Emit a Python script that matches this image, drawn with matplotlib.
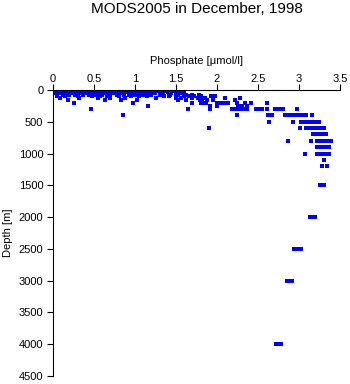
import matplotlib
matplotlib.use("Agg")
import matplotlib.pyplot as plt
import numpy as np

# phosphate readings (umol/l) at each standard depth level (m)
p_0 = [0.01, 0.04, 0.07, 0.09, 0.12, 0.15, 0.18, 0.21, 0.24, 0.27, 0.3, 0.33, 0.36,
       0.39, 0.42, 0.45, 0.48, 0.51, 0.54, 0.57, 0.6, 0.63, 0.66, 0.69, 0.72, 0.75,
       0.78, 0.81, 0.84, 0.87, 0.9, 0.93, 0.96, 0.99, 1.02, 1.08, 1.12, 1.18, 1.22,
       1.3, 1.35, 1.4, 1.47]
p_10 = [0.02, 0.05, 0.08, 0.11, 0.14, 0.17, 0.2, 0.23, 0.26, 0.29, 0.32, 0.35, 0.38,
        0.41, 0.44, 0.47, 0.5, 0.53, 0.56, 0.59, 0.62, 0.65, 0.68, 0.71, 0.74, 0.77,
        0.8, 0.83, 0.86, 0.89, 0.92, 0.95, 0.98, 1.1, 1.16, 1.25, 1.32, 1.42, 1.48]
p_20 = [0.03, 0.06, 0.1, 0.13, 0.16, 0.19, 0.22, 0.26, 0.29, 0.33, 0.36, 0.4, 0.43,
        0.46, 0.5, 0.53, 0.57, 0.6, 0.63, 0.67, 0.7, 0.74, 0.77, 0.8, 0.84, 0.88,
        0.91, 0.95, 1.02, 1.06, 1.2, 1.28, 1.37, 1.45, 1.52]
p_30 = [0.02, 0.07, 0.11, 0.15, 0.2, 0.24, 0.3, 0.34, 0.38, 0.44, 0.48, 0.52, 0.58,
        0.62, 0.66, 0.7, 0.75, 0.8, 0.85, 0.9, 0.98, 1.1, 1.14, 1.3, 1.4, 1.5, 1.56]
p_50 = [0.03, 0.09, 0.17, 0.22, 0.28, 0.35, 0.41, 0.5, 0.55, 0.61, 0.68, 0.73, 0.82,
        0.87, 0.95, 1.05, 1.18, 1.24, 1.34, 1.44, 1.55, 1.6]
p_75 = [0.05, 0.12, 0.2, 0.27, 0.36, 0.44, 0.52, 0.6, 0.7, 0.78, 0.86, 0.93, 1.0,
        1.1, 1.2, 1.3, 1.43, 1.52, 1.62, 1.7, 1.78]
p_100 = [0.05, 0.15, 0.31, 0.48, 0.57, 0.66, 0.8, 0.95, 1.05, 1.15, 1.35, 1.42, 1.5,
         1.6, 1.66, 1.72, 1.8, 1.93, 1.98]
p_125 = [0.08, 0.32, 0.55, 0.7, 0.88, 1.25, 1.5, 1.56, 1.69, 1.77, 1.85, 2.1, 2.28]
p_150 = [0.18, 0.63, 0.83, 1.03, 1.53, 1.62, 1.79, 1.82, 1.88, 1.95, 2.22]
p_200 = [0.25, 0.97, 1.7, 1.81, 1.84, 1.87, 2.0, 2.04, 2.07, 2.11, 2.14, 2.24, 2.34,
         2.42, 2.61]
p_250 = [1.16, 1.91, 2.0, 2.26, 2.3, 2.37]
p_300 = [0.46, 1.65, 1.91, 2.18, 2.21, 2.24, 2.28, 2.32, 2.37, 2.48, 2.5, 2.52, 2.55,
         2.61, 2.71, 2.74, 2.77, 2.8, 2.98]
p_400 = [0.85, 2.24, 2.62, 2.65, 2.67, 2.83, 2.86, 2.88, 2.91, 2.95, 2.98, 3.01, 3.04,
         3.07, 3.09, 3.16]
p_500 = [2.64, 2.93, 3.02, 3.07, 3.1, 3.13, 3.16, 3.19, 3.22, 3.24]
p_600 = [1.9, 3.01, 3.09, 3.13, 3.16, 3.19, 3.22, 3.25, 3.28, 3.31]
p_700 = [3.17, 3.2, 3.23, 3.26, 3.29, 3.33]
p_800 = [2.86, 3.15, 3.22, 3.25, 3.28, 3.31, 3.34, 3.36, 3.39]
p_900 = [3.22, 3.25, 3.28, 3.31, 3.33, 3.36]
p_1000 = [3.07, 3.22, 3.25, 3.28, 3.31, 3.34, 3.37]
p_1100 = [3.31]
p_1200 = [3.28, 3.34]
p_1500 = [3.25, 3.28, 3.31]
p_2000 = [3.13, 3.16, 3.19]
p_2500 = [2.94, 2.97, 3.0, 3.02]
p_3000 = [2.85, 2.88, 2.91]
p_4000 = [2.72, 2.75, 2.78]

levels = {0: p_0, 10: p_10, 20: p_20, 30: p_30, 50: p_50, 75: p_75, 100: p_100,
          125: p_125, 150: p_150, 200: p_200, 250: p_250, 300: p_300, 400: p_400,
          500: p_500, 600: p_600, 700: p_700, 800: p_800, 900: p_900, 1000: p_1000,
          1100: p_1100, 1200: p_1200, 1500: p_1500, 2000: p_2000, 2500: p_2500,
          3000: p_3000, 4000: p_4000}

x_ticks = [0, 0.5, 1, 1.5, 2, 2.5, 3, 3.5]
x_labels = ["0", "0.5", "1", "1.5", "2", "2.5", "3", "3.5"]
y_ticks = [0, 500, 1000, 1500, 2000, 2500, 3000, 3500, 4000, 4500]

phos = np.concatenate([np.asarray(v, float) for v in levels.values()])
depth = np.concatenate([np.full(len(v), d, float) for d, v in levels.items()])

plt.rcParams["font.family"] = ["Liberation Sans", "DejaVu Sans"]

W, H = 350, 384
fig = plt.figure(figsize=(W / 100, H / 100), dpi=100)
ax = fig.add_axes([53 / W, 1 - 376 / H, 287 / W, 286 / H])

ax.scatter(phos, depth, s=7.5, marker="s", color="#0000ff", linewidths=0)

ax.set_xlim(0, 3.5)
ax.set_ylim(4500, 0)
ax.set_xticks(x_ticks)
ax.set_xticklabels(x_labels)
ax.set_yticks(y_ticks)
ax.set_yticklabels([str(t) for t in y_ticks])
ax.xaxis.tick_top()
ax.tick_params(axis="x", direction="out", length=4, width=0.8, pad=0, labelsize=8)
ax.tick_params(axis="y", direction="out", length=4, width=0.8, pad=3, labelsize=8)
for side in ("right", "bottom"):
    ax.spines[side].set_visible(False)
for side in ("left", "top"):
    ax.spines[side].set_linewidth(0.8)

cx = (53 + 340) / 2 / W
fig.text(cx, 1 - 13 / H, "MODS2005 in December, 1998", ha="center", va="baseline",
         fontsize=11)
fig.text(cx, 1 - 64 / H, "Phosphate [\u03bcmol/l]", ha="center", va="baseline",
         fontsize=8)
fig.text(8 / W, 1 - 233 / H, "Depth [m]", ha="center", va="center", rotation=90,
         fontsize=8)

fig.savefig("out.png", dpi=100)
